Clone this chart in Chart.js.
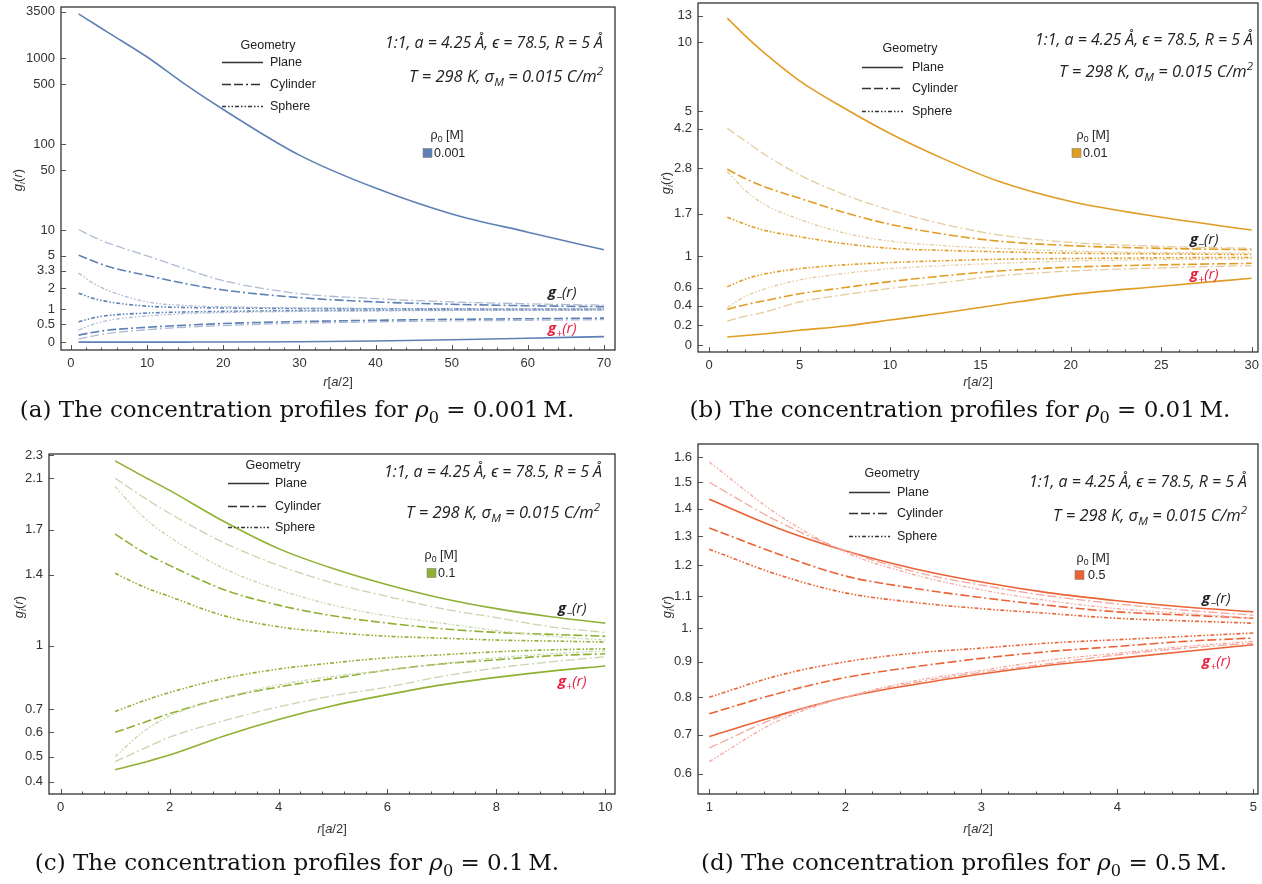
<!DOCTYPE html>
<html><head><meta charset="utf-8">
<script src="https://cdn.jsdelivr.net/npm/chart.js@4/dist/chart.umd.min.js"></script>
<style>
body{margin:0;width:1262px;height:884px;background:#fff;position:relative;overflow:hidden;font-family:"Liberation Sans",Arial,sans-serif;}
.cv{position:absolute;}
.t{position:absolute;white-space:nowrap;line-height:1;}
sub,sup{font-size:70%;line-height:0;}
.cap{font-family:"DejaVu Serif",serif;color:#111;}
.par{font-family:"Open Sans",sans-serif;font-style:italic;color:#222;}
.leg{font-size:12.5px;color:#222;}
.gl{font-family:"Open Sans",sans-serif;font-size:15px;font-style:italic;}
#ov{position:absolute;left:0;top:0;}
</style></head><body>
<canvas id="ca" class="cv" width="630" height="395" style="left:0;top:0"></canvas>
<canvas id="cb" class="cv" width="622" height="395" style="left:640px;top:0"></canvas>
<canvas id="cc" class="cv" width="630" height="400" style="left:0;top:440px"></canvas>
<canvas id="cd" class="cv" width="622" height="400" style="left:640px;top:440px"></canvas>
<svg id="ov" width="1262" height="884"></svg>
<script>
// ---------------- DATA ----------------
// Panel (a) rho0 = 0.001 M
const xA = [1, 3, 5, 10, 15, 20, 30, 40, 50, 60, 70];
const aPlaneMinus    = [3300, 2550, 1970, 1040, 500, 255, 75, 31, 15.5, 9.5, 5.9];
const aPlanePlus     = [0.0003, 0.0004, 0.0005, 0.001, 0.002, 0.004, 0.013, 0.032, 0.065, 0.105, 0.15];
const aCylMinus      = [5.1, 4.3, 3.7, 2.9, 2.3, 1.9, 1.5, 1.3, 1.2, 1.14, 1.1];
const aCylPlus       = [0.19, 0.27, 0.33, 0.41, 0.47, 0.52, 0.58, 0.62, 0.65, 0.67, 0.69];
const aCylLightMinus = [10.2, 8.3, 7.0, 5.0, 3.5, 2.5, 1.7, 1.45, 1.3, 1.22, 1.16];
const aCylLightPlus  = [0.09, 0.17, 0.24, 0.34, 0.41, 0.46, 0.53, 0.57, 0.6, 0.62, 0.64];
const aSphMinus      = [1.72, 1.45, 1.3, 1.12, 1.07, 1.05, 1.03, 1.02, 1.015, 1.01, 1.01];
const aSphPlus       = [0.57, 0.7, 0.78, 0.86, 0.9, 0.92, 0.95, 0.96, 0.97, 0.975, 0.98];
const aSphLightMinus = [3.1, 2.3, 1.85, 1.3, 1.15, 1.1, 1.05, 1.03, 1.02, 1.015, 1.01];
const aSphLightPlus  = [0.33, 0.5, 0.62, 0.76, 0.84, 0.88, 0.92, 0.94, 0.955, 0.965, 0.97];
const aXTicks = [0, 10, 20, 30, 40, 50, 60, 70];
const aYTicks = [0, 0.5, 1, 2, 3.3, 5, 10, 50, 100, 500, 1000, 3500];
const aYLabels = ['0', '0.5', '1', '2', '3.3', '5', '10', '50', '100', '500', '1000', '3500'];

// Panel (b) rho0 = 0.01 M
const xB = [1, 2, 3, 5, 7.5, 10, 13, 16, 20, 25, 30];
const bPlaneMinus    = [12.7, 10.65, 9.05, 6.8, 5.15, 4.0, 3.07, 2.43, 1.95, 1.63, 1.4];
const bPlanePlus     = [0.08, 0.094, 0.11, 0.147, 0.19, 0.25, 0.325, 0.41, 0.52, 0.615, 0.71];
const bCylMinus      = [2.76, 2.5, 2.3, 2.02, 1.72, 1.5, 1.33, 1.22, 1.15, 1.11, 1.09];
const bCylPlus       = [0.36, 0.41, 0.45, 0.53, 0.6, 0.67, 0.74, 0.8, 0.85, 0.88, 0.9];
const bCylLightMinus = [4.22, 3.7, 3.25, 2.6, 2.1, 1.77, 1.5, 1.32, 1.2, 1.14, 1.11];
const bCylLightPlus  = [0.24, 0.29, 0.33, 0.44, 0.52, 0.59, 0.66, 0.74, 0.8, 0.84, 0.87];
const bSphMinus      = [1.63, 1.5, 1.4, 1.29, 1.18, 1.11, 1.08, 1.06, 1.04, 1.03, 1.02];
const bSphPlus       = [0.61, 0.7, 0.76, 0.83, 0.88, 0.91, 0.935, 0.955, 0.965, 0.975, 0.98];
const bSphLightMinus = [2.69, 2.2, 1.9, 1.59, 1.35, 1.22, 1.15, 1.11, 1.07, 1.05, 1.04];
const bSphLightPlus  = [0.38, 0.5, 0.58, 0.69, 0.77, 0.83, 0.87, 0.9, 0.93, 0.95, 0.96];
const bXTicks = [0, 5, 10, 15, 20, 25, 30];
const bYTicks = [0, 0.2, 0.4, 0.6, 1, 1.7, 2.8, 4.2, 5, 10, 13];
const bYLabels = ['0', '0.2', '0.4', '0.6', '1', '1.7', '2.8', '4.2', '5', '10', '13'];

// Panel (c) rho0 = 0.1 M
const xC = [1, 1.5, 2, 3, 4, 5, 6, 7, 8, 9, 10];
const cPlaneMinus    = [2.25, 2.12, 2.0, 1.76, 1.57, 1.44, 1.34, 1.26, 1.2, 1.155, 1.12];
const cPlanePlus     = [0.447, 0.475, 0.506, 0.585, 0.655, 0.715, 0.765, 0.81, 0.845, 0.875, 0.9];
const cCylMinus      = [1.67, 1.55, 1.46, 1.31, 1.22, 1.16, 1.12, 1.09, 1.07, 1.06, 1.05];
const cCylPlus       = [0.6, 0.64, 0.68, 0.75, 0.8, 0.84, 0.88, 0.91, 0.93, 0.95, 0.96];
const cCylLightMinus = [2.1, 1.95, 1.82, 1.61, 1.46, 1.35, 1.27, 1.2, 1.15, 1.1, 1.07];
const cCylLightPlus  = [0.48, 0.53, 0.58, 0.65, 0.71, 0.76, 0.8, 0.85, 0.89, 0.92, 0.945];
const cSphMinus      = [1.41, 1.33, 1.27, 1.16, 1.1, 1.07, 1.05, 1.04, 1.03, 1.025, 1.02];
const cSphPlus       = [0.69, 0.735, 0.775, 0.84, 0.885, 0.915, 0.94, 0.955, 0.97, 0.98, 0.985];
const cSphLightMinus = [2.03, 1.8, 1.65, 1.44, 1.31, 1.22, 1.16, 1.12, 1.08, 1.05, 1.03];
const cSphLightPlus  = [0.5, 0.6, 0.67, 0.75, 0.81, 0.85, 0.88, 0.91, 0.94, 0.96, 0.975];
const cXTicks = [0, 2, 4, 6, 8, 10];
const cYTicks = [0.4, 0.5, 0.6, 0.7, 1, 1.4, 1.7, 2.1, 2.3];
const cYLabels = ['0.4', '0.5', '0.6', '0.7', '1', '1.4', '1.7', '2.1', '2.3'];

// Panel (d) rho0 = 0.5 M
const xD = [1, 1.5, 2, 2.5, 3, 3.5, 4, 4.5, 5];
const dPlaneMinus    = [1.435, 1.33, 1.25, 1.19, 1.145, 1.11, 1.085, 1.065, 1.05];
const dPlanePlus     = [0.695, 0.75, 0.80, 0.835, 0.865, 0.89, 0.91, 0.93, 0.95];
const dCylMinus      = [1.33, 1.24, 1.165, 1.125, 1.095, 1.07, 1.05, 1.04, 1.03];
const dCylPlus       = [0.755, 0.81, 0.855, 0.885, 0.91, 0.93, 0.945, 0.96, 0.97];
const dCylLightMinus = [1.50, 1.355, 1.25, 1.18, 1.135, 1.10, 1.075, 1.055, 1.04];
const dCylLightPlus  = [0.665, 0.745, 0.80, 0.84, 0.87, 0.895, 0.92, 0.94, 0.955];
const dSphMinus      = [1.255, 1.17, 1.11, 1.08, 1.06, 1.045, 1.03, 1.022, 1.015];
const dSphPlus       = [0.80, 0.86, 0.90, 0.925, 0.94, 0.955, 0.965, 0.975, 0.985];
const dSphLightMinus = [1.58, 1.38, 1.245, 1.17, 1.12, 1.085, 1.06, 1.045, 1.03];
const dSphLightPlus  = [0.63, 0.735, 0.80, 0.845, 0.875, 0.905, 0.925, 0.945, 0.96];
const dXTicks = [1, 2, 3, 4, 5];
const dYTicks = [0.6, 0.7, 0.8, 0.9, 1, 1.1, 1.2, 1.3, 1.4, 1.5, 1.6];
const dYLabels = ['0.6', '0.7', '0.8', '0.9', '1.', '1.1', '1.2', '1.3', '1.4', '1.5', '1.6'];

const concentrations = ['0.001', '0.01', '0.1', '0.5'];
const geometries = ['Plane', 'Cylinder', 'Sphere'];

// ---------------- SCALE ----------------
class AsinhScale extends Chart.LinearScale {
  configure() {
    super.configure();
    this._a0 = Math.asinh(this.min);
    this._a1 = Math.asinh(this.max);
  }
  getPixelForValue(v) {
    return this.getPixelForDecimal((Math.asinh(v) - this._a0) / (this._a1 - this._a0));
  }
  getValueForPixel(p) {
    return Math.sinh(this._a0 + this.getDecimalForPixel(p) * (this._a1 - this._a0));
  }
}
AsinhScale.id = 'asinh';
AsinhScale.defaults = Chart.LinearScale.defaults;
Chart.register(AsinhScale);

const DASH = {plane: [], cyl: [9, 3, 9, 3, 2, 3], sph: [4, 2, 1.5, 2, 1.5, 2]};

const framePlugin = {
  id: 'frame',
  afterDraw(chart) {
    const o = chart.options.plugins.frame;
    const {ctx, chartArea: {left, top, right, bottom}} = chart;
    const xs = chart.scales.x, ys = chart.scales.y;
    ctx.save();
    ctx.strokeStyle = '#555'; ctx.lineWidth = 1;
    xs.ticks.forEach(t => {
      const p = Math.round(xs.getPixelForValue(t.value)) + 0.5;
      ctx.beginPath(); ctx.moveTo(p, bottom); ctx.lineTo(p, bottom - 5); ctx.stroke();
    });
    for (let v = o.minorStart; v <= xs.max; v += o.minorStep) {
      const p = Math.round(xs.getPixelForValue(v)) + 0.5;
      ctx.beginPath(); ctx.moveTo(p, bottom); ctx.lineTo(p, bottom - 2.5); ctx.stroke();
    }
    ys.ticks.forEach(t => {
      const p = Math.round(ys.getPixelForValue(t.value)) + 0.5;
      ctx.beginPath(); ctx.moveTo(left, p); ctx.lineTo(left + 5, p); ctx.stroke();
    });
    ctx.strokeStyle = '#333'; ctx.lineWidth = 1.3;
    ctx.strokeRect(left, top, right - left, bottom - top);
    ctx.restore();
  }
};

function makeChart(id, p) {
  const ser = [
    {d: p.cylLm, k: 'cyl', light: true}, {d: p.cylLp, k: 'cyl', light: true},
    {d: p.sphLm, k: 'sph', light: true}, {d: p.sphLp, k: 'sph', light: true},
    {d: p.planeM, k: 'plane'}, {d: p.planeP, k: 'plane'},
    {d: p.cylM, k: 'cyl'}, {d: p.cylP, k: 'cyl'},
    {d: p.sphM, k: 'sph'}, {d: p.sphP, k: 'sph'}
  ];
  const datasets = ser.map(s => ({
    data: p.xs.map((x, i) => ({x: x, y: s.d[i]})),
    borderColor: s.light ? p.light : p.dark,
    borderWidth: s.light ? 1.3 : 1.6,
    borderDash: DASH[s.k],
    pointRadius: 0, fill: false, cubicInterpolationMode: 'monotone'
  }));
  const tickFont = {family: '"Liberation Sans", Arial, sans-serif', size: 13};
  return new Chart(document.getElementById(id), {
    type: 'line',
    data: {datasets},
    plugins: [framePlugin],
    options: {
      responsive: false, animation: false,
      layout: {padding: {top: p.padTop, right: p.padRight, left: 0, bottom: 0}},
      plugins: {legend: {display: false}, tooltip: {enabled: false},
        frame: {minorStart: p.minorStart, minorStep: p.minorStep}},
      scales: {
        x: {type: 'linear', min: p.xMin, max: p.xMax,
          grid: {display: false, drawTicks: false}, border: {display: false},
          afterBuildTicks: sc => { sc.ticks = p.xTicks.map(v => ({value: v})); },
          afterFit: sc => { sc.height = p.xAxisH; sc.paddingLeft = 0; sc.paddingRight = 0; },
          ticks: {autoSkip: false, maxRotation: 0, padding: 6, color: '#333', font: tickFont,
            callback: v => String(v)}},
        y: {type: 'asinh', min: p.yMin, max: p.yMax,
          grid: {display: false, drawTicks: false}, border: {display: false},
          afterBuildTicks: sc => { sc.ticks = p.yTicks.map(v => ({value: v})); },
          afterFit: sc => { sc.width = p.yAxisW; sc.paddingTop = 0; sc.paddingBottom = 0; },
          ticks: {autoSkip: false, padding: 6, color: '#333', font: tickFont,
            callback: (v, i) => p.yLabels[i]}}
      }
    }
  });
}

makeChart('ca', {xs: xA, planeM: aPlaneMinus, planeP: aPlanePlus, cylM: aCylMinus, cylP: aCylPlus,
  cylLm: aCylLightMinus, cylLp: aCylLightPlus, sphM: aSphMinus, sphP: aSphPlus, sphLm: aSphLightMinus, sphLp: aSphLightPlus,
  dark: '#5E81B5', light: '#AEBBD4', xMin: -1.31, xMax: 71.45, yMin: Math.sinh(-0.21), yMax: Math.sinh(8.98),
  xTicks: aXTicks, yTicks: aYTicks, yLabels: aYLabels, yAxisW: 61, xAxisH: 45, padTop: 7, padRight: 15, minorStart: 0, minorStep: 2});
makeChart('cb', {xs: xB, planeM: bPlaneMinus, planeP: bPlanePlus, cylM: bCylMinus, cylP: bCylPlus,
  cylLm: bCylLightMinus, cylLp: bCylLightPlus, sphM: bSphMinus, sphP: bSphPlus, sphLm: bSphLightMinus, sphLp: bSphLightPlus,
  dark: '#E19C24', light: '#E6CB9E', xMin: -0.62, xMax: 30.35, yMin: Math.sinh(-0.069), yMax: Math.sinh(3.386),
  xTicks: bXTicks, yTicks: bYTicks, yLabels: bYLabels, yAxisW: 58, xAxisH: 43, padTop: 3, padRight: 4, minorStart: 0, minorStep: 1});
makeChart('cc', {xs: xC, planeM: cPlaneMinus, planeP: cPlanePlus, cylM: cCylMinus, cylP: cCylPlus,
  cylLm: cCylLightMinus, cylLp: cCylLightPlus, sphM: cSphMinus, sphP: cSphPlus, sphLm: cSphLightMinus, sphLp: cSphLightPlus,
  dark: '#8FB032', light: '#C9D4AC', xMin: -0.215, xMax: 10.18, yMin: Math.sinh(0.346), yMax: Math.sinh(1.575),
  xTicks: cXTicks, yTicks: cYTicks, yLabels: cYLabels, yAxisW: 49, xAxisH: 46, padTop: 14, padRight: 15, minorStart: 0, minorStep: 0.4});
makeChart('cd', {xs: xD, planeM: dPlaneMinus, planeP: dPlanePlus, cylM: dCylMinus, cylP: dCylPlus,
  cylLm: dCylLightMinus, cylLp: dCylLightPlus, sphM: dSphMinus, sphP: dSphPlus, sphLm: dSphLightMinus, sphLp: dSphLightPlus,
  dark: '#EB6235', light: '#F4A79C', xMin: 0.917, xMax: 5.035, yMin: Math.sinh(0.5248), yMax: Math.sinh(1.277),
  xTicks: dXTicks, yTicks: dYTicks, yLabels: dYLabels, yAxisW: 58, xAxisH: 46, padTop: 4, padRight: 4, minorStart: 1, minorStep: 0.2});

// ---------------- TEXT OVERLAYS ----------------
function txt(html, x, y, anchor, cls, style) {
  const el = document.createElement('div');
  el.className = 't ' + (cls || '');
  el.innerHTML = html;
  if (style) el.style.cssText += style;
  el.style.left = x + 'px'; el.style.top = y + 'px';
  const tx = anchor === 'c' ? '-50%' : anchor === 'r' ? '-100%' : '0';
  el.style.transform = 'translate(' + tx + ',-50%)';
  document.body.appendChild(el);
  return el;
}
function fitFont(el, target, base) {
  el.style.fontSize = base + 'px';
  const w = el.getBoundingClientRect().width;
  el.style.fontSize = (base * target / w) + 'px';
  return base * target / w;
}
const svg = document.getElementById('ov');
function svgEl(tag, attrs) {
  const e = document.createElementNS('http://www.w3.org/2000/svg', tag);
  for (const k in attrs) e.setAttribute(k, attrs[k]);
  svg.appendChild(e); return e;
}

const panels = [
  {yt: [17, 180], xt: [338, 381], geo: [268, 45, 62, 84, 106, 270, 222, 263],
   par: [603, 43, 603, 76], rho: [447, 135, 423, 153, 434], gl: [548, 291, 327], col: '#5E81B5', cap: [297, 410], capL: '(a)'},
  {yt: [665, 183], xt: [978, 381], geo: [910, 48, 67, 88, 111, 912, 862, 903],
   par: [1253, 40, 1253, 71], rho: [1093, 135, 1072, 153, 1083], gl: [1190, 238, 273], col: '#E19C24', cap: [960, 410], capL: '(b)'},
  {yt: [18, 607], xt: [332, 828], geo: [273, 465, 483, 506, 527, 275, 228, 269],
   par: [602, 472, 600, 512], rho: [441, 555, 427, 573, 438], gl: [558, 607, 680], col: '#8FB032', cap: [297, 863], capL: '(c)'},
  {yt: [666, 607], xt: [978, 828], geo: [892, 473, 492, 513, 536, 897, 849, 890],
   par: [1247, 482, 1247, 515], rho: [1093, 558, 1075, 575, 1088], gl: [1202, 597, 660], col: '#EB6235', cap: [964, 863], capL: '(d)'}
];
const dashStr = {plane: 'none', cyl: '9 3 9 3 2 3', sph: '4 2 1.5 2 1.5 2'};
let capSize = null;
panels.forEach((p, i) => {
  const yt = txt('<i>g</i><sub><i>i</i></sub>(<i>r</i>)', p.yt[0], p.yt[1], 'c', '', 'font-size:13px;color:#333;');
  yt.style.transform = 'translate(-50%,-50%) rotate(-90deg)';
  txt('<i>r</i>[<i>a</i>/2]', p.xt[0], p.xt[1], 'c', '', 'font-size:13px;color:#333;');
  const g = p.geo;
  txt('Geometry', g[0], g[1], 'c', 'leg');
  ['plane', 'cyl', 'sph'].forEach((k, j) => {
    txt(geometries[j], g[5], g[2 + j], 'l', 'leg');
    svgEl('line', {x1: g[6], y1: g[2 + j] + 0.5, x2: g[7], y2: g[2 + j] + 0.5, stroke: '#333', 'stroke-width': 1.4,
      'stroke-dasharray': dashStr[k]});
  });
  const l1 = txt('1:1, <i>a</i> = 4.25 Å, ϵ = 78.5, <i>R</i> = 5 Å', p.par[0], p.par[1], 'r', 'par');
  fitFont(l1, 218, 15);
  const l2 = txt('<i>T</i> = 298 K, σ<sub><i>M</i></sub> = 0.015 C/m<sup>2</sup>', p.par[2], p.par[3], 'r', 'par');
  fitFont(l2, 194, 15);
  txt('ρ<sub>0</sub> [M]', p.rho[0], p.rho[1], 'c', 'leg');
  svgEl('rect', {x: p.rho[2], y: p.rho[3] - 4.5, width: 9, height: 9, fill: p.col, stroke: '#777', 'stroke-width': 0.5});
  txt(concentrations[i], p.rho[4], p.rho[3], 'l', 'leg');
  txt('<b><i>g</i></b><sub>−</sub>(<i>r</i>)', p.gl[0], p.gl[1], 'l', 'gl', 'color:#222;');
  txt('<b><i>g</i></b><sub>+</sub>(<i>r</i>)', p.gl[0], p.gl[2], 'l', 'gl', 'color:#E8213F;');
  const c = txt(p.capL + ' The concentration profiles for <i>ρ</i><sub>0</sub> = ' + concentrations[i] + '\u2009M.', p.cap[0], p.cap[1], 'c', 'cap');
  if (capSize === null) { c.style.fontSize = '20px'; }
  else c.style.fontSize = capSize + 'px';
  if (i === 1) {
    capSize = fitFont(c, 541, 20);
    document.querySelectorAll('.cap').forEach(e => e.style.fontSize = capSize + 'px');
  }
});
</script>
</body></html>
